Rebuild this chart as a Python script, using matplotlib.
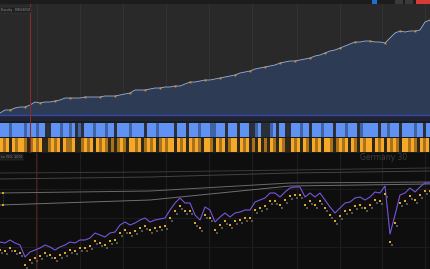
import matplotlib
matplotlib.use("Agg")
import matplotlib.pyplot as plt
import numpy as np
from matplotlib.patches import Rectangle

# ---- data ----
bar_x = list(range(0, 431, 5))

equity = [2, 5, 5, 7, 8, 8, 10, 13, 12, 13, 13, 14, 15, 17, 17, 17, 17, 18, 18, 18,
          18, 19, 19, 19, 20, 21, 22, 25, 25, 25, 26, 27, 27, 28, 28, 29, 29, 31, 33, 33,
          34, 35, 35, 36, 37, 38, 39, 40, 42, 43, 44, 46, 47, 48, 49, 50, 52, 53, 54, 54,
          55, 56, 57, 59, 60, 62, 64, 65, 67, 69, 71, 73, 73, 74, 74, 73, 73, 72, 77, 82,
          84, 83, 84, 84, 85, 93, 95]

price = [27, 26, 29, 26, 24, 12, 17, 19, 21, 24, 22, 19, 22, 24, 27, 26, 29, 29, 31, 36,
         34, 32, 36, 37, 44, 47, 44, 46, 49, 51, 47, 49, 50, 51, 59, 66, 71, 66, 66, 54,
         49, 62, 59, 47, 52, 56, 52, 56, 57, 59, 59, 67, 69, 71, 76, 76, 72, 77, 81, 82,
         82, 72, 76, 72, 76, 69, 62, 56, 61, 66, 67, 71, 72, 69, 72, 77, 76, 83, 35, 54,
         74, 76, 81, 77, 82, 86, 86]

# level lines in the lower pane: (x, value) pairs
level_x = [0, 150, 290, 430]
level_a = [96, 97, 99, 101]
level_b = [90, 92, 96, 98]
level_c = [76, 78, 86, 87]
level_d = [64, 69, 83, 85]

# signal strips, one cell = 3 bars; 2 strong, 1 weak, 0 none
long_strip = ("222122221222122" "00" "22212212" "010" "2221222122" "0" "222212222" "0"
              "222122222" "0" "2220" "222122211" "2220" "2220" "222" "00" "12" "000"
              "120" "22" "00" "22212202221222022212220122222022122202222122022")
short_strip = ("212021221012120" "01" "21202112" "001" "2120212101" "0" "121022120" "1"
               "212012122" "0" "2120" "212102210" "2120" "1220" "212" "01" "02" "010"
               "210" "21" "00" "21202102120221012120210212202120212102212102120")

fig = plt.figure(figsize=(4.3, 2.69), dpi=100)
fig.patch.set_facecolor("#1c1c1c")
H = 269.0

def band(top, bottom):
    return [0, 1 - bottom / H, 1, (bottom - top) / H]

ax_eq = fig.add_axes(band(4, 121))
ax_sig = fig.add_axes(band(121, 153))
ax_px = fig.add_axes(band(153, 269))

grid_x = [37, 80, 123, 166, 209, 252, 297, 340, 382, 425]

# equity pane
ax_eq.set_facecolor("#292929")
ax_eq.fill_between(bar_x, equity, 0, color="#2d3b55", lw=0)
ax_eq.plot(bar_x, equity, color="#9ab0dc", lw=0.6)
ax_eq.plot(bar_x[2::3], equity[2::3], ls="none", marker="s", ms=1.3,
           color="#d8922e", mew=0)
ax_eq.axhspan(-6, 0, color="#1f2333", lw=0)
ax_eq.axhline(0, color="#3448a8", lw=1)
for gx in grid_x:
    ax_eq.axvline(gx, color="#353535", lw=0.6, zorder=0)
ax_eq.axvline(30, color="#8a2b2b", lw=0.8)
ax_eq.set_xlim(0, 430)
ax_eq.set_ylim(-6, 111)
ax_eq.text(1, 104, "Equity  09/04/10", fontsize=2.5, color="#9a9a9a",
           bbox=dict(boxstyle="square,pad=0.3", fc="#1f1f1f", ec="#444", lw=0.3))

# signal strips
ax_sig.set_facecolor("#1b1b1b")
ax_sig.axhspan(16, 30, color="#2a2f3a", lw=0)
ax_sig.axhspan(1, 15, color="#2e2818", lw=0)
blue = {"2": "#5f92f2", "1": "#3f63a6"}
orange = {"2": "#f6a828", "1": "#a8721c"}
for i, (a, b) in enumerate(zip(long_strip, short_strip)):
    if a in blue:
        ax_sig.bar(3 * i, 14, width=3, bottom=16, align="edge", color=blue[a],
                   lw=0, antialiased=False)
    if b in orange:
        ax_sig.bar(3 * i, 14, width=3, bottom=1, align="edge", color=orange[b],
                   lw=0, antialiased=False)
ax_sig.axvline(30, color="#8a2b2b", lw=0.8)
ax_sig.set_xlim(0, 430)
ax_sig.set_ylim(0, 32)

# price pane
ax_px.set_facecolor("#0e0e0e")
for gx in grid_x:
    ax_px.axvline(gx, color="#222222", lw=0.6, zorder=0)
for gy in [22, 51, 80]:
    ax_px.axhline(gy, color="#1e1e1e", lw=0.6, zorder=0)
ax_px.axvline(36, color="#4a1c1c", lw=0.8)
for lv, c in [(level_a, "#3a3a3a"), (level_b, "#444444"),
              (level_c, "#6a6a6a"), (level_d, "#707070")]:
    ax_px.plot(level_x, lv, color=c, lw=0.7)
ax_px.plot([3, 3], [level_d[0], level_c[0]], color="#555", lw=0.6, ls=":")
ax_px.plot([3, 3], [level_d[0], level_c[0]], ls="none", marker="s", ms=1.8,
           color="#e0a524", mew=0)
ax_px.plot(bar_x, price, color="#7b45d6", lw=0.8)
ax_px.plot(bar_x, price, color="#5a7fc0", lw=0.3, alpha=0.6)
mx = np.array(bar_x, dtype=float)
mp = np.array(price, dtype=float)
ax_px.plot(mx + 1.6, mp - 11, ls="none", marker="s", ms=1.7, color="#555555", mew=0)
ax_px.plot(mx, mp - 8, ls="none", marker="s", ms=1.7, color="#e2a52a", mew=0)
ax_px.set_xlim(0, 430)
ax_px.set_ylim(0, 116)
ax_px.text(360, 109, "Germany 30", fontsize=5.5, color="#3c3c3c")
ax_px.text(1, 111, "ss (50, 100)", fontsize=2.5, color="#8a8a8a",
           bbox=dict(boxstyle="square,pad=0.3", fc="#1c1c1c", ec="#3a3a3a", lw=0.3))

for ax in (ax_eq, ax_sig, ax_px):
    ax.set_xticks([])
    ax.set_yticks([])
    for s in ax.spines.values():
        s.set_visible(False)

# toolbar buttons
for x0, w, c in [(372, 5, "#1e6fd0"), (395, 8, "#3a3a3a"), (405, 8, "#3a3a3a"),
                 (416, 14, "#d83a3a")]:
    fig.add_artist(Rectangle((x0 / 430, 1 - 3.5 / H), w / 430, 3.5 / H,
                             transform=fig.transFigure, color=c, lw=0))

fig.savefig("out.png", dpi=100, facecolor=fig.get_facecolor())
